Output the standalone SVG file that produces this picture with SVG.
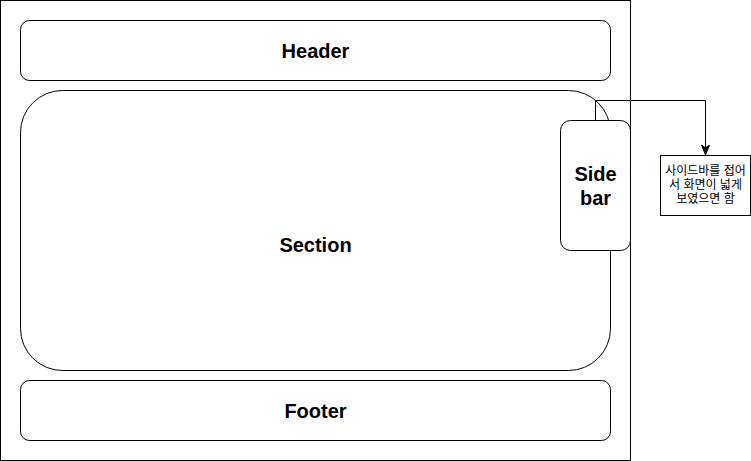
<svg xmlns="http://www.w3.org/2000/svg" width="751" height="461" viewBox="0 0 751 461">
<style>
.box{fill:#fff;stroke:#000;stroke-width:1}
.lbl{font-family:"Liberation Sans",Arial,sans-serif;font-weight:bold;font-size:20px;text-anchor:middle;dominant-baseline:central}
.note{font-family:"Liberation Sans","Noto Sans CJK KR",sans-serif;font-size:12px;text-anchor:middle;dominant-baseline:central}
</style>
<defs>
<marker id="arr" viewBox="0 0 10 10" refX="9" refY="5" markerWidth="10" markerHeight="10" markerUnits="userSpaceOnUse" orient="auto">
<path d="M0,1 L10,5 L0,9 L3,5 Z" fill="#000" stroke="#000"/>
</marker>
</defs>
<rect width="751" height="461" fill="#fff"/>
<g id="page"><rect class="box" x="0.5" y="0.5" width="630" height="460"/></g>
<g id="header"><rect class="box" x="20.5" y="20.5" width="590" height="60" rx="9"/><text class="lbl" x="315.5" y="50.5">Header</text></g>
<g id="section"><rect class="box" x="20.5" y="90.5" width="590" height="280" rx="42"/><text class="lbl" x="315.5" y="245">Section</text></g>
<g id="footer"><rect class="box" x="20.5" y="380.5" width="590" height="60" rx="9"/><text class="lbl" x="315.5" y="410.5">Footer</text></g>
<g id="connectors"><path d="M595.5,120.5 V100.5 H705.5 V154" fill="none" stroke="#000" marker-end="url(#arr)"/></g>
<g id="sidebar"><rect class="box" x="560.5" y="120.5" width="70" height="130" rx="10"/><text class="lbl" x="595.5" y="173.5">Side</text><text class="lbl" x="595.5" y="198">bar</text></g>
<g id="note"><rect class="box" x="660.5" y="155.5" width="90" height="60"/><text class="note" x="705.5" y="171">사이드바를 접어</text><text class="note" x="705.5" y="185">서 화면이 넓게</text><text class="note" x="705.5" y="199">보였으면 함</text></g>
</svg>
